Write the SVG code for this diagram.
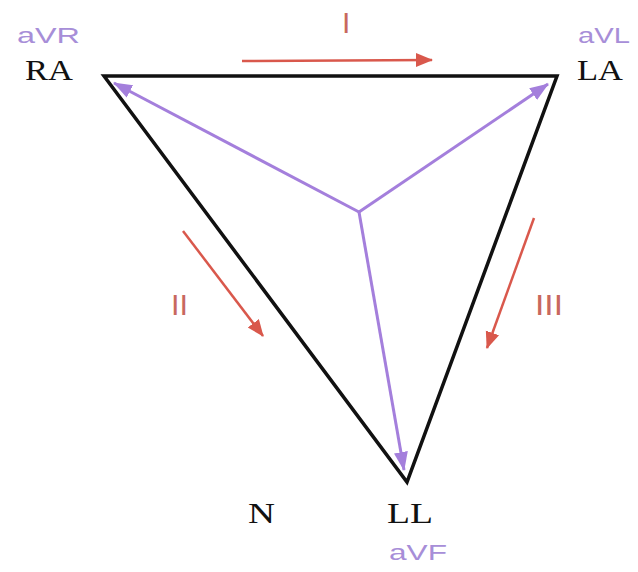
<svg xmlns="http://www.w3.org/2000/svg" width="638" height="572" viewBox="0 0 638 572">
<style>
.serif{font-family:"Liberation Serif","Times New Roman",serif;fill:#111;font-size:30px}
.avl{font-family:"Liberation Sans",Arial,sans-serif;fill:#a78ed8;font-size:22px}
.lead{font-family:"Liberation Sans",Arial,sans-serif;fill:#c8685e;font-size:30px}
.red{stroke:#d9584c;stroke-width:2.5;fill:none}
.pur{stroke:#a47fdc;stroke-width:3;fill:none}
</style>
<defs>
<marker id="ahR" markerUnits="userSpaceOnUse" markerWidth="20" markerHeight="16" refX="16" refY="7" orient="auto">
<path d="M0,0 L17,7 L0,14 Z" fill="#d9584c"/>
</marker>
<marker id="ahP" markerUnits="userSpaceOnUse" markerWidth="22" markerHeight="16" refX="18" refY="7" orient="auto">
<path d="M0,0 L19,7 L0,14 Z" fill="#a47fdc"/>
</marker>
</defs>
<rect width="638" height="572" fill="#fff"/>
<g id="triangle">
<polygon points="104,76 557,76 407,482" fill="none" stroke="#111" stroke-width="3.5" stroke-linejoin="miter"/>
</g>
<g id="connectors">
<line class="pur" x1="359" y1="212" x2="114" y2="83" marker-end="url(#ahP)"/>
<line class="pur" x1="359" y1="212" x2="548" y2="84" marker-end="url(#ahP)"/>
<line class="pur" x1="359" y1="212" x2="404" y2="470" marker-end="url(#ahP)"/>
<line class="red" x1="242" y1="61" x2="432" y2="60" marker-end="url(#ahR)"/>
<line class="red" x1="183" y1="231" x2="263" y2="336" marker-end="url(#ahR)"/>
<line class="red" x1="534" y1="218" x2="487" y2="348" marker-end="url(#ahR)"/>
</g>
<g id="RA">
<text class="avl" x="17" y="43" textLength="63" lengthAdjust="spacingAndGlyphs">aVR</text>
<text class="serif" x="25" y="80" textLength="48" lengthAdjust="spacingAndGlyphs">RA</text>
</g>
<g id="LA">
<text class="avl" x="578" y="43" textLength="52" lengthAdjust="spacingAndGlyphs">aVL</text>
<text class="serif" x="577" y="80" textLength="46" lengthAdjust="spacingAndGlyphs">LA</text>
</g>
<g id="LL">
<text class="serif" x="387" y="523" textLength="46" lengthAdjust="spacingAndGlyphs">LL</text>
<text class="avl" x="389" y="560" textLength="58" lengthAdjust="spacingAndGlyphs">aVF</text>
</g>
<g id="N">
<text class="serif" x="248" y="523" textLength="27" lengthAdjust="spacingAndGlyphs">N</text>
</g>
<g id="labels">
<text class="lead" x="342" y="33">I</text>
<text class="lead" x="171" y="315" textLength="17" lengthAdjust="spacingAndGlyphs">II</text>
<text class="lead" x="535" y="315" textLength="28" lengthAdjust="spacingAndGlyphs">III</text>
</g>
</svg>
